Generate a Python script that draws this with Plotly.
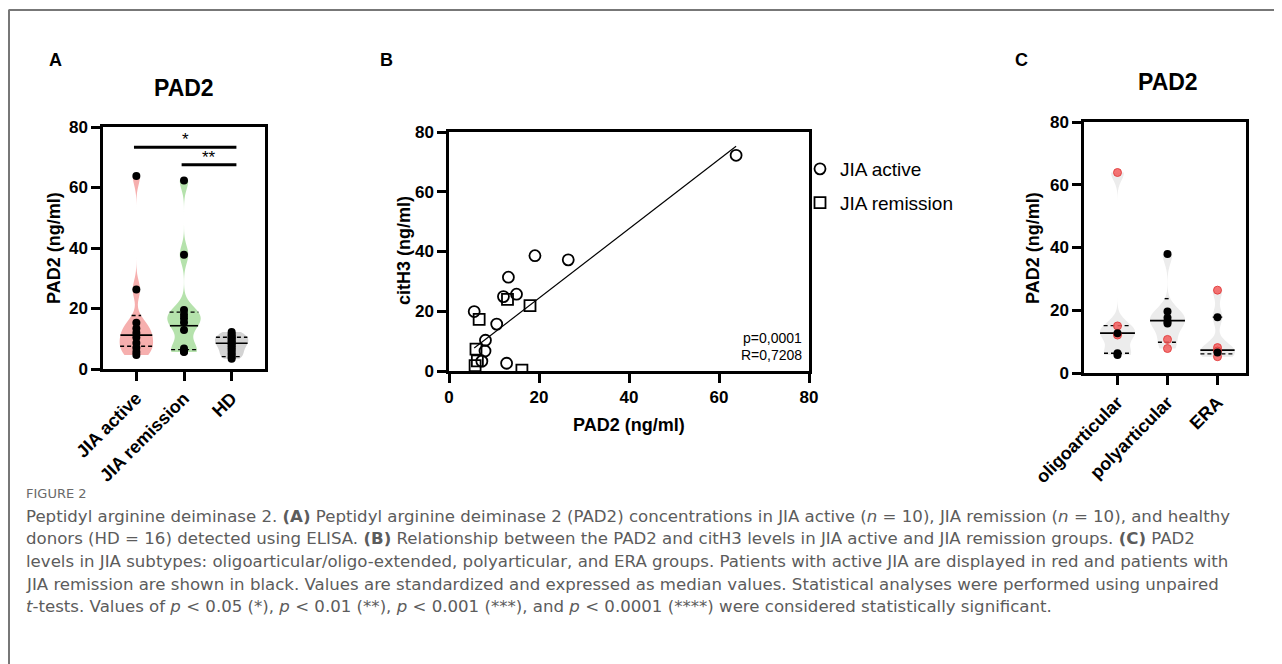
import numpy as np
import plotly.graph_objects as go

W, H = 1282, 664          # target screenshot size
OFF = 8                   # default page body margin
FW, FH = W - OFF, H - OFF  # figure size
FONT = "Liberation Sans, Arial, sans-serif"
CAP_FONT = "DejaVu Sans, sans-serif"

# ---------------- data ----------------
# Panel A
a_groups = ["JIA active", "JIA remission", "HD"]
a_jia_active = [63.8, 26.3, 15.3, 13.4, 11.9, 10.4, 8.6, 7.0, 5.6, 4.6]
a_jia_remission = [62.3, 37.8, 19.5, 17.9, 16.8, 15.4, 12.9, 6.8, 5.8, 5.6]
a_hd = [12.2, 11.6, 11.0, 10.5, 10.1, 9.6, 9.1, 8.6, 8.1, 7.5, 6.9, 6.2, 5.4, 4.7, 4.0, 3.4]
a_median = [11.2, 14.3, 8.5]
a_q1 = [7.5, 6.4, 4.1]
a_q3 = [17.7, 18.8, 10.5]
a_sig_labels = ["*", "**"]
a_sig_from = [0, 1]
a_sig_to = [2, 2]
a_sig_y = [73.3, 67.5]

# Panel B
b_active_pad2 = [63.8, 26.5, 19.1, 15.0, 13.2, 12.1, 10.6, 5.6, 8.1, 8.0, 7.3, 12.8]
b_active_cith3 = [72.2, 37.2, 38.6, 25.7, 31.4, 24.9, 15.7, 19.9, 10.3, 6.7, 3.3, 2.6]
b_rem_pad2 = [6.7, 13.0, 18.0, 6.0, 6.3, 5.8, 16.2]
b_rem_cith3 = [17.3, 24.0, 21.9, 7.3, 3.4, 1.8, 0.3]
b_fit_slope = 1.16
b_fit_intercept = 1.2
b_stats = ["p=0,0001", "R=0,7208"]

# Panel C
c_groups = ["oligoarticular", "polyarticular", "ERA"]
c_active = [[63.9, 15.0, 12.1], [10.7, 7.8], [26.4, 8.1, 7.0, 5.2]]
c_remission = [[12.7, 6.3, 5.7], [37.9, 19.6, 17.6, 16.4, 15.8], [17.8, 6.5]]
c_median = [12.7, 16.7, 7.3]
c_q1 = [6.3, 9.8, 6.1]
c_q3 = [15.1, 23.7, 17.8]

ticks = [0, 20, 40, 60, 80]

# ---------------- helpers ----------------
def fx(px):
    return (px - OFF) / FW

def fy(py):
    return 1 - (py - OFF) / FH

VW = 0.7  # violin full width (category units)

def halfwidth(values, bw, y):
    v = np.asarray(values, float)
    grid = np.linspace(v.min(), v.max(), 600)
    def dens(t):
        t = np.atleast_1d(np.asarray(t, float))
        return np.exp(-0.5 * ((t[:, None] - v[None, :]) / bw) ** 2).sum(axis=1)
    return float(VW / 2 * dens(y)[0] / dens(grid).max())

fig = go.Figure()

def add_violin(pos, vals, bw, color, xa, ya):
    fig.add_trace(go.Violin(
        x=[pos] * len(vals), y=vals, xaxis=xa, yaxis=ya, width=VW,
        spanmode="hard", bandwidth=bw, points=False, scalemode="width",
        fillcolor=color, line=dict(width=0, color=color), opacity=1,
        showlegend=False, hoverinfo="skip"))

def add_hline(pos, vals, bw, y, xa, ya, dash, w):
    hw = halfwidth(vals, bw, y)
    fig.add_trace(go.Scatter(
        x=[pos - hw, pos + hw], y=[y, y], xaxis=xa, yaxis=ya, mode="lines",
        line=dict(color="black", width=w, dash=dash), showlegend=False,
        hoverinfo="skip"))

# ---------------- Panel A ----------------
a_data = [a_jia_active, a_jia_remission, a_hd]
a_colors = ["#F6AFAE", "#B5E2AC", "#D3D3D3"]
a_bw = [3.0, 3.0, 1.3]
for i, vals in enumerate(a_data):
    add_violin(i, vals, a_bw[i], a_colors[i], "x", "y")
for i, vals in enumerate(a_data):
    add_hline(i, vals, a_bw[i], a_median[i], "x", "y", "solid", 1.6)
    add_hline(i, vals, a_bw[i], a_q1[i], "x", "y", "4px,3px", 1.4)
    add_hline(i, vals, a_bw[i], a_q3[i], "x", "y", "4px,3px", 1.4)
for i, vals in enumerate(a_data):
    fig.add_trace(go.Scatter(
        x=[i] * len(vals), y=vals, xaxis="x", yaxis="y", mode="markers",
        marker=dict(color="black", size=8), showlegend=False))
for lab, f, t, yv in zip(a_sig_labels, a_sig_from, a_sig_to, a_sig_y):
    fig.add_trace(go.Scatter(
        x=[f - 0.05, t + 0.1], y=[yv, yv], xaxis="x", yaxis="y", mode="lines",
        line=dict(color="black", width=3), showlegend=False, hoverinfo="skip"))
    fig.add_annotation(x=(f - 0.05 + t + 0.1) / 2, y=yv, xref="x", yref="y",
                       text=lab, showarrow=False, yanchor="bottom", yshift=-4,
                       font=dict(family=FONT, size=17, color="black"))

# ---------------- Panel B ----------------
fig.add_trace(go.Scatter(
    x=b_active_pad2, y=b_active_cith3, xaxis="x2", yaxis="y2", mode="markers",
    name="JIA active", legendgroup="a",
    marker=dict(symbol="circle-open", size=11, color="black",
                line=dict(width=1.8, color="black"))))
fig.add_trace(go.Scatter(
    x=b_rem_pad2, y=b_rem_cith3, xaxis="x2", yaxis="y2", mode="markers",
    name="JIA remission", legendgroup="b",
    marker=dict(symbol="square-open", size=11, color="black",
                line=dict(width=1.8, color="black"))))
all_x = b_active_pad2 + b_rem_pad2
x_lo, x_hi = min(all_x), max(all_x)
fig.add_trace(go.Scatter(
    x=[x_lo, x_hi],
    y=[b_fit_slope * x_lo + b_fit_intercept, b_fit_slope * x_hi + b_fit_intercept],
    xaxis="x2", yaxis="y2", mode="lines", line=dict(color="black", width=1.2),
    showlegend=False, hoverinfo="skip"))

# ---------------- Panel C ----------------
c_bw = [2.6, 3.0, 2.6]
c_all = [a + r for a, r in zip(c_active, c_remission)]
for i, vals in enumerate(c_all):
    add_violin(i, vals, c_bw[i], "#ECECEC", "x3", "y3")
for i, vals in enumerate(c_all):
    add_hline(i, vals, c_bw[i], c_median[i], "x3", "y3", "solid", 1.6)
    add_hline(i, vals, c_bw[i], c_q1[i], "x3", "y3", "4px,3px", 1.4)
    add_hline(i, vals, c_bw[i], c_q3[i], "x3", "y3", "4px,3px", 1.4)
for i in range(3):
    fig.add_trace(go.Scatter(
        x=[i] * len(c_active[i]), y=c_active[i], xaxis="x3", yaxis="y3",
        mode="markers", showlegend=False,
        marker=dict(color="rgba(242,92,92,0.85)", size=8,
                    line=dict(color="rgba(225,60,60,0.9)", width=1))))
    fig.add_trace(go.Scatter(
        x=[i] * len(c_remission[i]), y=c_remission[i], xaxis="x3", yaxis="y3",
        mode="markers", showlegend=False, marker=dict(color="black", size=8)))

# ---------------- axes ----------------
tickfont = dict(family=FONT, size=17, color="black", weight="bold")
catfont = dict(family=FONT, size=18, color="black", weight="bold")
common = dict(showline=True, linewidth=2.5, linecolor="black", mirror=True,
              ticks="outside", ticklen=9, tickwidth=2.5, tickcolor="black",
              showgrid=False, zeroline=False, fixedrange=True,
              automargin=False)

fig.update_layout(
    xaxis=dict(domain=[fx(103), fx(265)], range=[-0.7, 2.7], tickvals=[0, 1, 2],
               ticktext=a_groups, tickangle=-45, anchor="y", tickfont=catfont,
               **common),
    yaxis=dict(domain=[fy(369), fy(127)], range=[0, 80], tickvals=ticks,
               anchor="x", tickfont=tickfont, **common),
    xaxis2=dict(domain=[fx(449), fx(809)], range=[0, 80], tickvals=ticks,
                anchor="y2", tickfont=tickfont, **common),
    yaxis2=dict(domain=[fy(371), fy(132)], range=[0, 80], tickvals=ticks,
                anchor="x2", tickfont=tickfont, **common),
    xaxis3=dict(domain=[fx(1084), fx(1246)], range=[-0.67, 2.57], tickvals=[0, 1, 2],
                ticktext=c_groups, tickangle=-45, anchor="y3", tickfont=catfont,
                **common),
    yaxis3=dict(domain=[fy(373), fy(122)], range=[0, 80], tickvals=ticks,
                anchor="x3", tickfont=tickfont, **common),
)

# ---------------- text ----------------
def ann(px, py, text, size, bold=False, angle=0, xanchor="center", yanchor="middle",
        family=FONT, color="black"):
    fig.add_annotation(x=fx(px), y=fy(py), xref="paper", yref="paper", text=text,
                       showarrow=False, textangle=angle, xanchor=xanchor,
                       yanchor=yanchor,
                       font=dict(family=family, size=size, color=color,
                                 weight="bold" if bold else "normal"))

ann(56, 60, "A", 18, bold=True)
ann(386, 60, "B", 18, bold=True)
ann(1021, 60, "C", 18, bold=True)
ann(184, 88, "PAD2", 23, bold=True)
ann(1168, 82, "PAD2", 23, bold=True)
ann(54, 248, "PAD2 (ng/ml)", 18, bold=True, angle=-90)
ann(404, 251, "citH3 (ng/ml)", 18, bold=True, angle=-90)
ann(629, 425, "PAD2 (ng/ml)", 18, bold=True)
ann(1033, 248, "PAD2 (ng/ml)", 18, bold=True, angle=-90)
ann(804, 338, b_stats[0], 14, xanchor="right")
ann(804, 355, b_stats[1], 14, xanchor="right")

cap_color = "#5c5c5c"
ann(24, 493, "FIGURE 2", 13, xanchor="left", family=CAP_FONT, color="#6a6a6a")
caption = [
    "Peptidyl arginine deiminase 2. <b>(A)</b> Peptidyl arginine deiminase 2 (PAD2) concentrations in JIA active (<i>n</i> = 10), JIA remission (<i>n</i> = 10), and healthy",
    "donors (HD = 16) detected using ELISA. <b>(B)</b> Relationship between the PAD2 and citH3 levels in JIA active and JIA remission groups. <b>(C)</b> PAD2",
    "levels in JIA subtypes: oligoarticular/oligo-extended, polyarticular, and ERA groups. Patients with active JIA are displayed in red and patients with",
    "JIA remission are shown in black. Values are standardized and expressed as median values. Statistical analyses were performed using unpaired",
    "<i>t</i>-tests. Values of <i>p</i> &lt; 0.05 (*), <i>p</i> &lt; 0.01 (**), <i>p</i> &lt; 0.001 (***), and <i>p</i> &lt; 0.0001 (****) were considered statistically significant.",
]
for k, line in enumerate(caption):
    ann(24, 516 + 22.7 * k, line, 16.6, xanchor="left", family=CAP_FONT, color=cap_color)

# frame lines
fig.add_shape(type="line", xref="paper", yref="paper", x0=fx(8.5), x1=1.02,
              y0=fy(10), y1=fy(10), line=dict(color="#777777", width=2))
fig.add_shape(type="line", xref="paper", yref="paper", x0=fx(9), x1=fx(9),
              y0=fy(10), y1=-0.05, line=dict(color="#777777", width=2))

fig.update_layout(
    width=FW, height=FH, margin=dict(l=0, r=0, t=0, b=0, autoexpand=False),
    paper_bgcolor="white", plot_bgcolor="rgba(0,0,0,0)",
    violinmode="overlay",
    showlegend=True,
    legend=dict(x=fx(800), y=fy(150), xanchor="left", yanchor="top",
                font=dict(family=FONT, size=19, color="black"),
                bgcolor="rgba(0,0,0,0)", tracegroupgap=6, traceorder="grouped"),
)

fig.write_html("out.html")
